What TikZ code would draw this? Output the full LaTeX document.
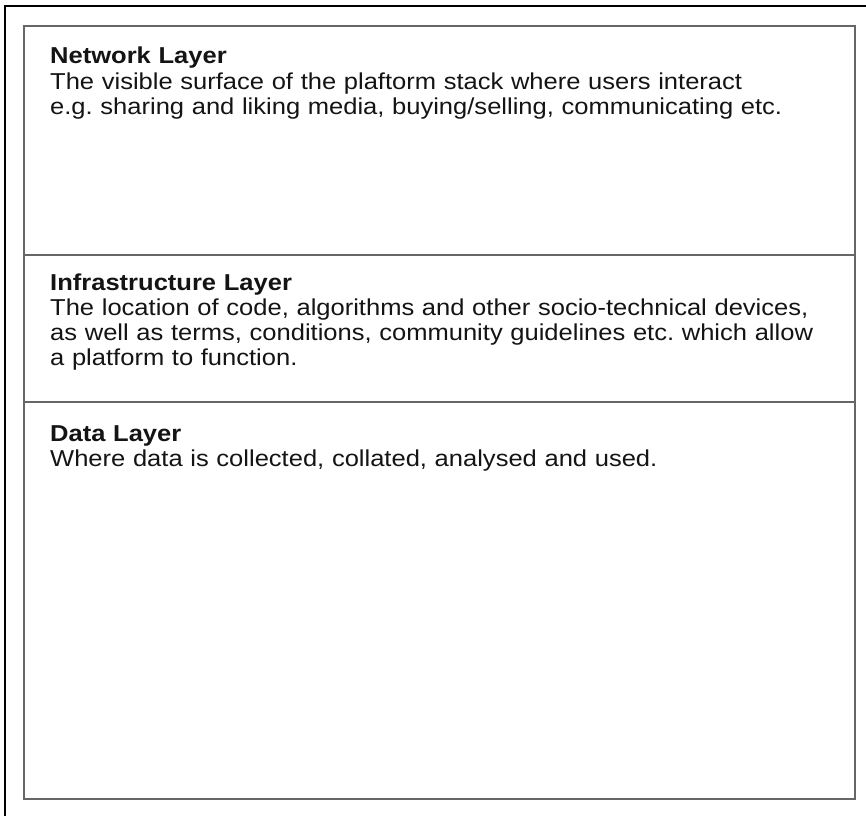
\documentclass[tikz,border=0pt]{standalone}
\usepackage{fontspec}
\setmainfont{Liberation Sans}[FakeStretch=1.11]
\frenchspacing
\begin{document}
\begin{tikzpicture}[x=1pt,y=-1pt,
  frame/.style={line width=1.4pt, draw=black},
  boxline/.style={line width=1.2pt, draw=black!60},
  layertext/.style={anchor=north west, inner sep=0pt, text width=795pt, align=left,
    font=\fontsize{23}{25.2}\selectfont, text=black!92}]
\useasboundingbox (0,0) rectangle (866,815);
\fill[white] (0,0) rectangle (866,815);
% outer frame (cropped at right and bottom)
\coordinate (fbl) at (5,820);
\coordinate (ftl) at (5,6);
\coordinate (ftr) at (870,6);
\draw[frame] (fbl) -- (ftl) -- (ftr);
% inner stack box
\coordinate (tl) at (24,26);
\coordinate (br) at (855,799);
\draw[boxline] (tl) rectangle (br);
\coordinate (d1l) at (24,255);
\coordinate (d1r) at (855,255);
\coordinate (d2l) at (24,402);
\coordinate (d2r) at (855,402);
\draw[boxline] (d1l) -- (d1r);
\draw[boxline] (d2l) -- (d2r);
% texts
\node[layertext] (net) at (50,46.2) {\textbf{Network Layer}\\[1.5pt]
The visible surface of the plaftorm stack where users interact\\
e.g. sharing and liking media, buying/selling, communicating etc.};
\node[layertext] (infra) at (50,273.2) {\textbf{Infrastructure Layer}\\
The location of code, algorithms and other socio-technical devices,\\
as well as terms, conditions, community guidelines etc. which allow\\
a platform to function.};
\node[layertext] (data) at (50,425.2) {\textbf{Data Layer}\\
Where data is collected, collated, analysed and used.};
\end{tikzpicture}
\end{document}
